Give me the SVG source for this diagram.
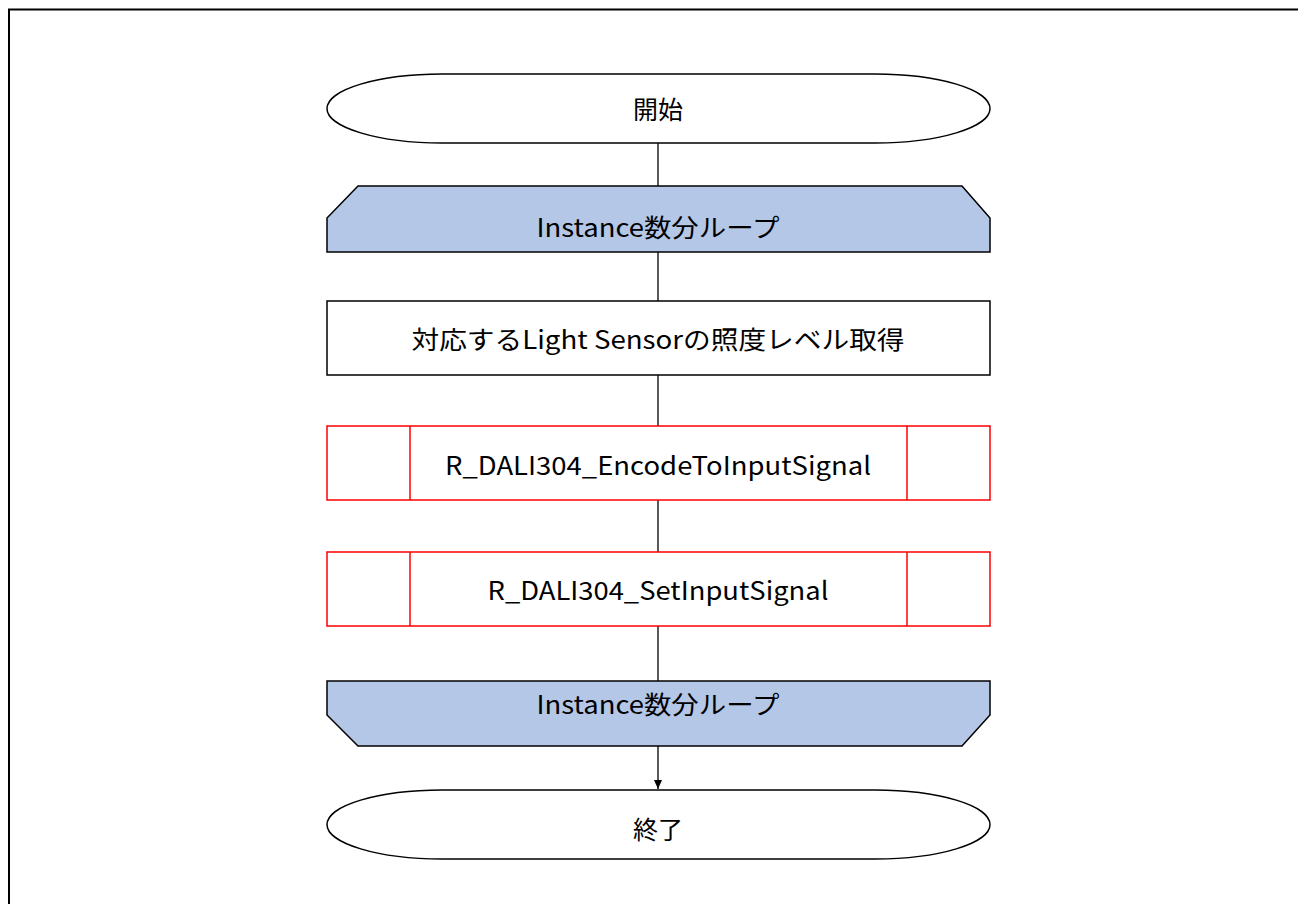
<svg xmlns="http://www.w3.org/2000/svg" width="1298" height="904" viewBox="0 0 1298 904">
<defs>
<style>
.t{font-family:"Noto Sans CJK JP","Noto Sans",sans-serif;font-size:25px;fill:#000;text-anchor:middle;dominant-baseline:central}
.k{fill:#fff;stroke:#000;stroke-width:1.5}
.lp{fill:#B4C7E7;stroke:#000;stroke-width:1.5}
.rd{fill:#fff;stroke:#FF0000;stroke-width:1.5}
.rl{stroke:#FF0000;stroke-width:1.5;fill:none}
.c{stroke:#000;stroke-width:1.3;fill:none}
</style>
<marker id="ah" markerWidth="10" markerHeight="10" refX="9" refY="5" orient="auto" markerUnits="userSpaceOnUse">
<path d="M0,1 L9,5 L0,9 Z" fill="#000"/>
</marker>
</defs>
<rect width="1298" height="904" fill="#fff"/>
<path d="M9,904 L9,9.5 L1298,9.5" fill="none" stroke="#000" stroke-width="2"/>
<g id="connectors">
<line class="c" x1="658" y1="143" x2="658" y2="187"/>
<line class="c" x1="658" y1="252" x2="658" y2="301"/>
<line class="c" x1="658" y1="375" x2="658" y2="426"/>
<line class="c" x1="658" y1="500" x2="658" y2="552"/>
<line class="c" x1="658" y1="626" x2="658" y2="681"/>
<line class="c" x1="658" y1="746" x2="658" y2="789" marker-end="url(#ah)"/>
</g>
<g id="start">
<rect class="k" x="327" y="74" width="663" height="69" rx="115" ry="34.5"/>
<text class="t" x="658" y="108">開始</text>
</g>
<g id="loopStart">
<path class="lp" d="M358,186 L962,186 L990,218 L990,252 L327,252 L327,218 Z"/>
<text class="t" x="658" y="226" textLength="243" lengthAdjust="spacingAndGlyphs">Instance数分ループ</text>
</g>
<g id="getLevel">
<rect class="k" x="327" y="301" width="663" height="74"/>
<text class="t" x="658" y="338" textLength="493" lengthAdjust="spacingAndGlyphs">対応するLight Sensorの照度レベル取得</text>
</g>
<g id="encode">
<rect class="rd" x="327" y="426" width="663" height="74"/>
<line class="rl" x1="410" y1="426" x2="410" y2="500"/>
<line class="rl" x1="907" y1="426" x2="907" y2="500"/>
<text class="t" x="658" y="464" textLength="426" lengthAdjust="spacingAndGlyphs">R_DALI304_EncodeToInputSignal</text>
</g>
<g id="setInput">
<rect class="rd" x="327" y="552" width="663" height="74"/>
<line class="rl" x1="410" y1="552" x2="410" y2="626"/>
<line class="rl" x1="907" y1="552" x2="907" y2="626"/>
<text class="t" x="658" y="589" textLength="341" lengthAdjust="spacingAndGlyphs">R_DALI304_SetInputSignal</text>
</g>
<g id="loopEnd">
<path class="lp" d="M327,681 L990,681 L990,715 L962,746 L358,746 L327,715 Z"/>
<text class="t" x="658" y="703" textLength="243" lengthAdjust="spacingAndGlyphs">Instance数分ループ</text>
</g>
<g id="end">
<rect class="k" x="327" y="790" width="663" height="69" rx="115" ry="34.5"/>
<text class="t" x="658" y="828">終了</text>
</g>
</svg>
